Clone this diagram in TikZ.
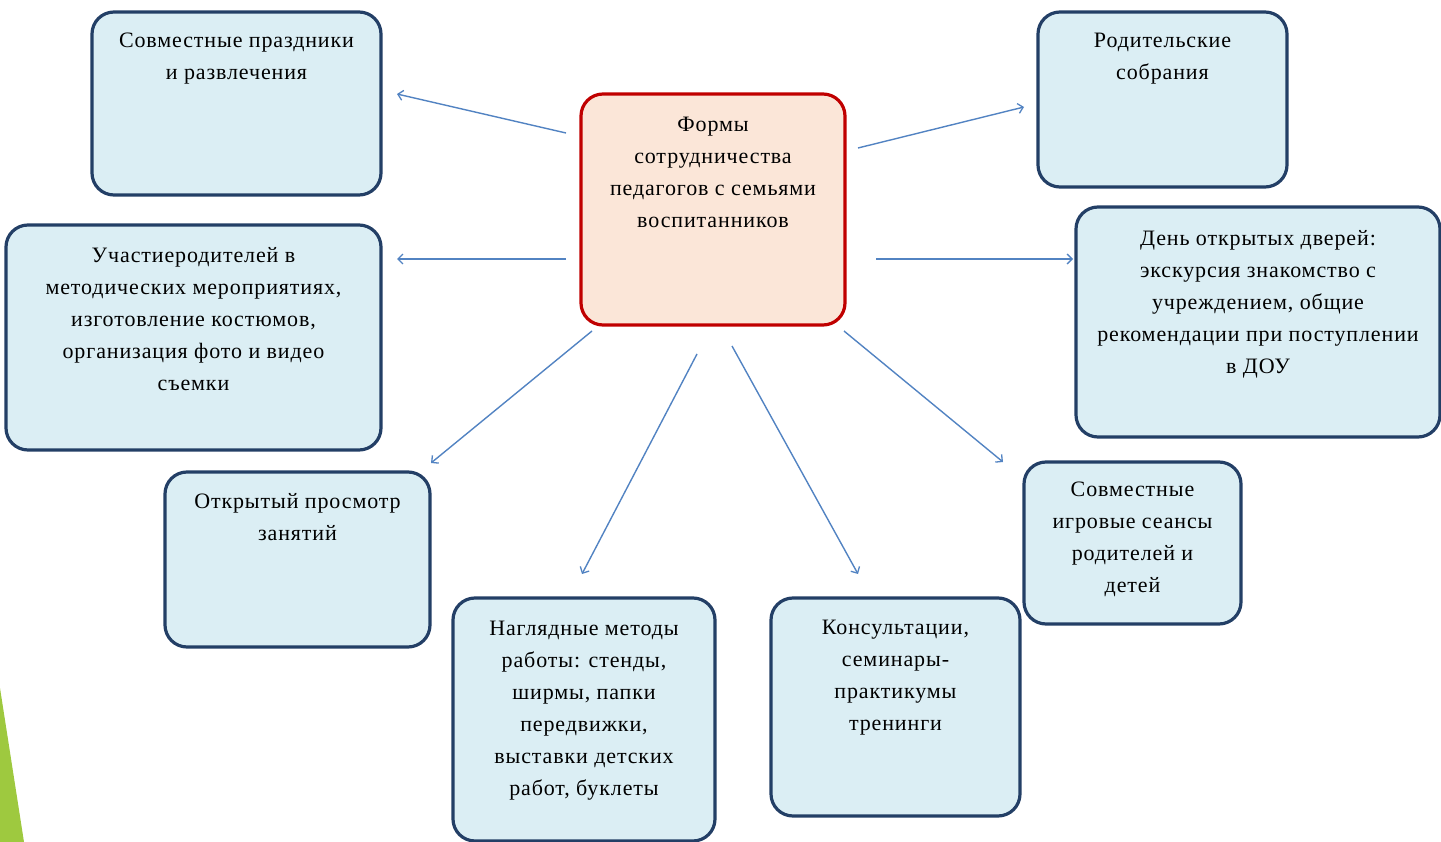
\documentclass[tikz,border=0pt]{standalone}
\usepackage{fontspec}
\setmainfont{Liberation Serif}[LetterSpace=4]
\usetikzlibrary{arrows.meta,calc}
\definecolor{boxfill}{HTML}{DBEEF4}
\definecolor{boxline}{HTML}{233F66}
\definecolor{cfill}{HTML}{FBE6D8}
\definecolor{cline}{HTML}{C00000}
\definecolor{arrowc}{HTML}{5283C2}
\definecolor{leaf}{HTML}{9EC93F}
\tikzset{
  panel/.style={draw=boxline, fill=boxfill, line width=3.2pt, rounded corners=22pt, anchor=north west, inner sep=0pt, outer sep=0pt},
  hub/.style={draw=cline, fill=cfill, line width=3.2pt, rounded corners=22pt, anchor=north west, inner sep=0pt, outer sep=0pt},
  txt/.style={anchor=north, inner sep=0pt, align=center, font=\fontsize{22}{32}\selectfont},
  arr/.style={draw=arrowc, line width=1.4pt, -{Straight Barb[length=5pt,width=10pt,line width=1.3pt]}}
}
\begin{document}
\begin{tikzpicture}[x=1pt,y=-1pt]
\useasboundingbox (0,0) rectangle (1441,842);
\fill[leaf] (0,688) -- (24,842) -- (0,842) -- cycle;

% boxes
\node[panel, minimum width=289pt, minimum height=183pt] (b1) at (92,12) {};
\node[hub,   minimum width=264pt, minimum height=231pt] (hub) at (581,94) {};
\node[panel, minimum width=249pt, minimum height=175pt] (b3) at (1038,12) {};
\node[panel, minimum width=375pt, minimum height=225pt] (b4) at (6,225) {};
\node[panel, minimum width=364pt, minimum height=230pt] (b5) at (1076,207) {};
\node[panel, minimum width=265pt, minimum height=175pt] (b6) at (165,472) {};
\node[panel, minimum width=262pt, minimum height=243pt] (b7) at (453,598) {};
\node[panel, minimum width=249pt, minimum height=218pt] (b8) at (771,598) {};
\node[panel, minimum width=217pt, minimum height=162pt] (b9) at (1024,462) {};

% texts
\node[txt] (t1) at ($(b1.north)+(0,21)$) {Совместные праздники\\и развлечения};
\node[txt] (th) at ($(hub.north)+(0,23)$) {Формы\\сотрудничества\\педагогов с семьями\\воспитанников};
\node[txt] (t3) at ($(b3.north)+(0,21)$) {Родительские\\собрания};
\node[txt] (t4) at ($(b4.north)+(0,22)$) {Участиеродителей в\\методических мероприятиях,\\изготовление костюмов,\\организация фото и видео\\съемки};
\node[txt] (t5) at ($(b5.north)+(0,23)$) {День открытых дверей:\\экскурсия знакомство с\\учреждением, общие\\рекомендации при поступлении\\в ДОУ};
\node[txt] (t6) at ($(b6.north)+(0,21)$) {Открытый просмотр\\занятий};
\node[txt] (t7) at ($(b7.north)+(0,23)$) {Наглядные методы\\работы: стенды,\\ширмы, папки\\передвижки,\\выставки детских\\работ, буклеты};
\node[txt] (t8) at ($(b8.north)+(0,22)$) {Консультации,\\семинары-\\практикумы\\тренинги};
\node[txt] (t9) at ($(b9.north)+(0,20)$) {Совместные\\игровые сеансы\\родителей и\\детей};

% connector ends
\coordinate (s1) at (566,133); \coordinate (e1) at (397,94);
\coordinate (s2) at (566,259); \coordinate (e2) at (397,259);
\coordinate (s3) at (592,331); \coordinate (e3) at (431,463);
\coordinate (s4) at (697,354); \coordinate (e4) at (582,574);
\coordinate (s5) at (732,346); \coordinate (e5) at (858,574);
\coordinate (s6) at (844,331); \coordinate (e6) at (1003,462);
\coordinate (s7) at (876,259); \coordinate (e7) at (1073,259);
\coordinate (s8) at (858,148); \coordinate (e8) at (1024,107);

\draw[arr] (s1) -- (e1);
\draw[arr] (s2) -- (e2);
\draw[arr] (s3) -- (e3);
\draw[arr] (s4) -- (e4);
\draw[arr] (s5) -- (e5);
\draw[arr] (s6) -- (e6);
\draw[arr] (s7) -- (e7);
\draw[arr] (s8) -- (e8);
\end{tikzpicture}
\end{document}
